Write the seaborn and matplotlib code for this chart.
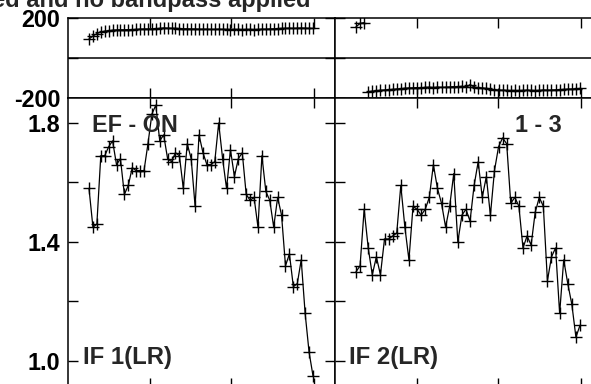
import numpy as np
import pandas as pd
import matplotlib
matplotlib.use("Agg")
import matplotlib.pyplot as plt
import seaborn as sns

# Cross-power spectrum, baseline EF - ON, two IFs (LR polarisation)
amp_if1 = [1.58, 1.45, 1.46, 1.69, 1.69, 1.72, 1.74, 1.66, 1.68, 1.56,
           1.59, 1.65, 1.64, 1.64, 1.64, 1.73, 1.83, 1.86, 1.74, 1.76,
           1.68, 1.67, 1.70, 1.69, 1.58, 1.73, 1.68, 1.52, 1.76, 1.70,
           1.66, 1.66, 1.67, 1.80, 1.68, 1.58, 1.71, 1.62, 1.68, 1.70,
           1.56, 1.54, 1.55, 1.45, 1.69, 1.57, 1.54, 1.45, 1.55, 1.49,
           1.32, 1.36, 1.25, 1.26, 1.34, 1.16, 1.03, 0.95]
amp_if2 = [1.30, 1.32, 1.51, 1.38, 1.29, 1.35, 1.29, 1.41, 1.41, 1.42,
           1.43, 1.59, 1.45, 1.34, 1.52, 1.51, 1.49, 1.51, 1.55, 1.66,
           1.58, 1.53, 1.45, 1.52, 1.63, 1.40, 1.49, 1.51, 1.47, 1.59,
           1.67, 1.55, 1.62, 1.49, 1.64, 1.72, 1.75, 1.73, 1.53, 1.55,
           1.52, 1.38, 1.42, 1.39, 1.50, 1.55, 1.52, 1.27, 1.35, 1.38,
           1.16, 1.34, 1.26, 1.19, 1.08, 1.12]
phase_if1 = [95, 110, 122, 130, 134, 137, 139, 140, 141, 141,
             142, 142, 143, 144, 145, 145, 146, 147, 148, 150,
             149, 148, 148, 147, 146, 146, 145, 145, 144, 144,
             144, 143, 143, 144, 143, 143, 142, 143, 143, 142,
             143, 143, 142, 143, 144, 144, 145, 146, 147, 148,
             148, 149, 148, 149, 150, 149, 148, 148]
phase_if2 = [156, 173, 177,
             -168, -166, -163, -161, -160, -158, -157, -155,
             -153, -151, -150, -149, -148, -150, -147, -146, -148, -145, -147, -146,
             -145, -143, -144, -141, -146,
             -133,
             -145, -148, -150, -152,
             -156, -159, -160, -161, -162, -163, -162, -163, -162, -161, -162,
             -163, -162, -160, -161, -160, -159, -158, -157, -156, -155,
             -154, -152]

title_text = "Vector averaged and no bandpass applied"
baseline_label = "EF - ON"
source_label = "1 - 3"
if_labels = ["IF 1(LR)", "IF 2(LR)"]
amp_ticks = [1.0, 1.2, 1.4, 1.6, 1.8]
amp_ticklabels = ["1.0", "", "1.4", "", "1.8"]
phase_ticks = [-200, 0, 200]
phase_ticklabels = ["-200", "", "200"]

sns.set_theme(style="ticks")
plt.rcParams["font.family"] = ["Liberation Sans", "DejaVu Sans"]
plt.rcParams["font.weight"] = "bold"
plt.rcParams["axes.edgecolor"] = "black"
plt.rcParams["axes.linewidth"] = 1.1

W, H = 591, 384
FS = 16.8
fig = plt.figure(figsize=(W / 100, H / 100), dpi=100)
fig.patch.set_facecolor("white")


def box(x0, y0, x1, y1):
    """Axes rectangle from a pixel box measured from the top-left corner."""
    return [x0 / W, 1 - y1 / H, (x1 - x0) / W, (y1 - y0) / H]


def phase_segments(ph):
    seg = np.concatenate([[0], np.cumsum(np.abs(np.diff(ph)) > 180)])
    return seg


line_kw = dict(color="black", lw=0.9, marker="+", markersize=9,
               markeredgewidth=1.0, markeredgecolor="black")

columns = [(68, 335), (335, 602)]
datasets = [(amp_if1, phase_if1), (amp_if2, phase_if2)]

for col, ((x0, x1), (amp, ph)) in enumerate(zip(columns, datasets)):
    n = len(amp)
    chan = np.arange(1, n + 1)
    df = pd.DataFrame({"chan": chan, "amp": amp, "phase": ph,
                       "seg": phase_segments(np.array(ph))})

    ax_ph = fig.add_axes(box(x0, 18, x1, 98))
    ax_am = fig.add_axes(box(x0, 98, x1, 388))

    # channel range occupies the same part of each panel
    step = (245 - 21) / (n - 1)
    xlim = (1 - 21 / step, n + (267 - 245) / step)
    xticks = [xlim[0] + f * (xlim[1] - xlim[0]) for f in (0.307, 0.612, 0.921)]

    sns.lineplot(data=df, x="chan", y="phase", units="seg", estimator=None,
                 sort=False, ax=ax_ph, legend=False, **line_kw)
    ax_ph.axhline(0, color="black", lw=1.1)
    ax_ph.set_ylim(-200, 200)

    sns.lineplot(data=df, x="chan", y="amp", estimator=None, sort=False,
                 ax=ax_am, legend=False, **line_kw)
    ax_am.set_ylim(1.8 - (388 - 123) / 297.5, 1.8 + 25 / 297.5)

    for ax, ticks, labels in ((ax_ph, phase_ticks, phase_ticklabels),
                              (ax_am, amp_ticks, amp_ticklabels)):
        ax.set_xlim(*xlim)
        ax.set_xticks(xticks)
        ax.set_xticklabels([])
        ax.set_yticks(ticks)
        ax.set_yticklabels(labels if col == 0 else [])
        ax.set_xlabel("")
        ax.set_ylabel("")
        ax.tick_params(direction="in", length=7, width=1.0, color="black",
                       top=True, right=True, bottom=True, left=True,
                       labelsize=FS, pad=5.5, labelcolor="black")
        for lab in ax.get_yticklabels():
            lab.set_fontweight("bold")
        for sp in ax.spines.values():
            sp.set_visible(True)
            sp.set_color("black")
        ax.set_facecolor("white")

    ax_am.text(((349 if col else 83) - x0) / 267, (388 - 364) / 290,
               if_labels[col], transform=ax_am.transAxes, fontsize=FS + 0.4,
               fontweight="bold", ha="left", va="baseline")
    if col == 0:
        ax_am.text((92 - x0) / 267, (388 - 132) / 290, baseline_label,
                   transform=ax_am.transAxes, fontsize=FS, fontweight="bold",
                   ha="left", va="baseline")
    else:
        ax_am.text((515 - x0) / 267, (388 - 132) / 290, source_label,
                   transform=ax_am.transAxes, fontsize=FS, fontweight="bold",
                   ha="left", va="baseline")

fig.text(311 / W, 1 - 7.5 / H, title_text, fontsize=17.0, fontweight="bold",
         ha="right", va="baseline")

fig.savefig("out.png", dpi=100, facecolor="white")
